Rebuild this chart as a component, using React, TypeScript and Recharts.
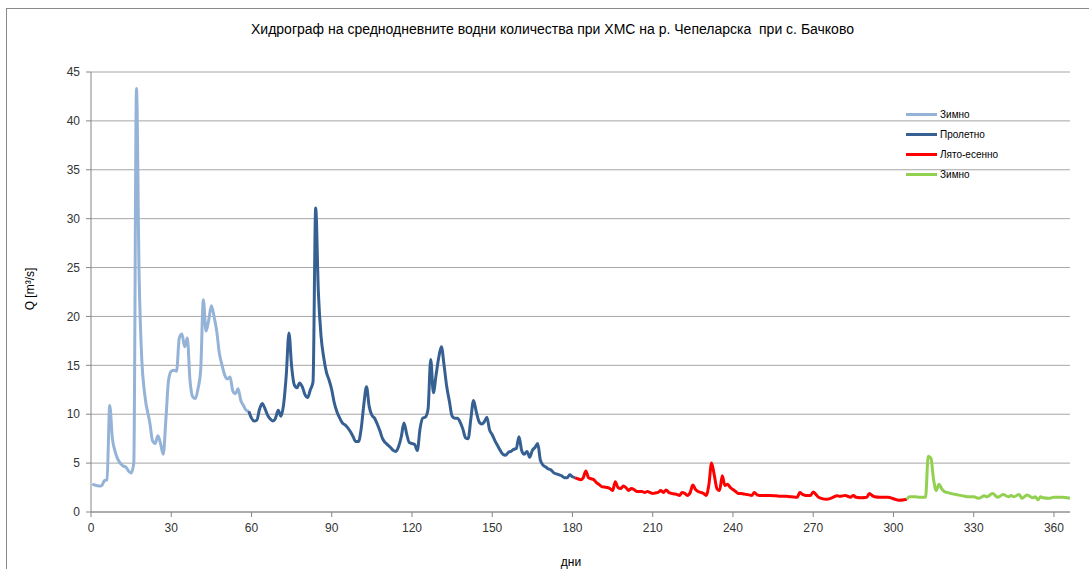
import React from 'react';
import { LineChart, Line, XAxis, YAxis, CartesianGrid, Legend } from 'recharts';

const title = 'Хидрограф на среднодневните водни количества при ХМС на р. Чепеларска  при с. Бачково';
const yLabel = 'Q [m³/s]';
const xLabel = 'дни';
const xTicks = [0, 30, 60, 90, 120, 150, 180, 210, 240, 270, 300, 330, 360];
const yTicks = [0, 5, 10, 15, 20, 25, 30, 35, 40, 45];

const winter1Days = [0.5, 3, 4, 5, 6, 7, 8, 9, 10, 12, 13, 14, 15, 16, 17, 18, 19, 20, 22, 23, 24, 25, 26, 27, 28, 29, 30, 31, 32, 33, 34, 35, 36, 37, 38, 39, 40, 41, 42, 43, 44, 45, 46, 47, 48, 49, 50, 51, 52, 53, 54, 55, 56, 57, 58, 59];
const winter1Q = [2.85, 2.65, 2.7, 3.2, 3.3, 10.9, 7.5, 6.2, 5.4, 4.7, 4.6, 4.2, 4.0, 5.0, 43.3, 24, 15.5, 12.2, 9.1, 7.3, 7.0, 7.8, 7.0, 5.9, 9.5, 13.5, 14.4, 14.5, 14.4, 17.8, 18.2, 16.9, 17.8, 13.5, 11.8, 11.6, 12.6, 14.5, 21.7, 18.5, 19.6, 21.1, 20.0, 18.5, 16.2, 15.0, 14.0, 13.6, 13.8, 12.4, 12.1, 12.6, 11.4, 10.9, 10.4, 10.3];

const springDays = [59, 60, 61, 62, 63, 64, 65, 66, 67, 68, 69, 70, 71, 72, 73, 74, 75, 76, 77, 78, 79, 80, 81, 82, 83, 84, 85, 86, 87, 88, 89, 90, 91, 92, 93, 94, 95, 96, 97, 98, 99, 100, 101, 102, 103, 104, 105, 106, 107, 108, 109, 110, 111, 112, 113, 114, 115, 116, 117, 118, 119, 120, 121, 122, 123, 124, 125, 126, 127, 128, 129, 130, 131, 132, 133, 134, 135, 136, 137, 138, 139, 140, 141, 142, 143, 144, 145, 146, 147, 148, 149, 150, 151, 152, 153, 154, 155, 156, 157, 158, 159, 160, 161, 162, 163, 164, 165, 166, 167, 168, 169, 170, 171, 172, 173, 174, 175, 176, 177, 178, 179, 180, 181];
const springQ = [10.3, 9.6, 9.3, 9.4, 10.5, 11.1, 10.6, 9.9, 9.5, 9.3, 9.6, 10.4, 9.8, 11.0, 14.0, 18.3, 14.9, 13.0, 12.7, 13.2, 12.8, 12.0, 11.7, 12.5, 13.3, 31.1, 22.5, 18.0, 15.8, 14.3, 13.5, 12.5, 11.1, 10.2, 9.6, 9.1, 8.9, 8.6, 8.2, 7.7, 7.2, 7.2, 8.5, 11.0, 12.8, 10.8, 9.9, 9.6, 9.0, 8.3, 7.5, 7.1, 6.85, 6.6, 6.3, 6.2, 6.7, 7.7, 9.1, 8.0, 7.1, 7.0, 6.9, 6.3, 8.5, 9.6, 9.7, 10.5, 15.6, 12.2, 14.0, 15.8, 16.9, 15.0, 12.8, 11.3, 9.8, 9.6, 9.6, 9.2, 8.5, 7.6, 7.5, 9.5, 11.4, 10.3, 9.3, 9.0, 9.2, 9.7, 8.4, 7.9, 7.3, 6.8, 6.3, 5.9, 5.8, 6.1, 6.2, 6.4, 6.5, 7.7, 6.3, 5.9, 6.2, 5.6, 6.3, 6.6, 7.0, 5.3, 4.8, 4.6, 4.4, 4.3, 4.0, 3.9, 3.8, 3.7, 3.5, 3.5, 3.8, 3.6, 3.5];

const summerDays = [181, 182, 183, 184, 185, 186, 187, 188, 189, 190, 191, 192, 193, 194, 195, 196, 197, 198, 199, 200, 201, 202, 203, 204, 205, 206, 207, 208, 209, 210, 211, 212, 213, 214, 215, 216, 217, 218, 219, 220, 221, 222, 223, 224, 225, 226, 227, 228, 229, 230, 231, 232, 233, 234, 235, 236, 237, 238, 239, 240, 241, 242, 243, 244, 245, 246, 247, 248, 249, 250, 252, 254, 256, 258, 260, 262, 264, 265, 266, 267, 268, 269, 270, 271, 272, 273, 275, 277, 279, 280, 282, 284, 285, 286, 288, 290, 291, 292, 293, 295, 297, 298, 300, 302, 304, 305];
const summerQ = [3.5, 3.4, 3.3, 3.5, 4.2, 3.5, 3.4, 3.3, 3.0, 2.8, 2.6, 2.55, 2.5, 2.4, 2.2, 3.1, 2.5, 2.4, 2.65, 2.5, 2.2, 2.4, 2.3, 2.1, 2.1, 2.1, 2.0, 2.1, 2.0, 1.9, 1.95, 2.0, 2.2, 2.0, 2.25, 2.0, 1.9, 1.85, 1.8, 1.7, 2.0, 1.9, 1.7, 2.0, 2.75, 2.3, 2.1, 2.0, 1.9, 1.7, 2.8, 5.0, 3.8, 2.4, 2.2, 3.7, 2.7, 2.85, 2.5, 2.3, 2.1, 1.9, 1.9, 1.85, 1.8, 1.75, 1.7, 2.0, 1.75, 1.7, 1.7, 1.7, 1.65, 1.6, 1.6, 1.55, 1.5, 2.0, 1.8, 1.7, 1.7, 1.7, 2.05, 1.8, 1.5, 1.4, 1.3, 1.45, 1.65, 1.6, 1.7, 1.5, 1.7, 1.5, 1.45, 1.5, 1.9, 1.7, 1.55, 1.5, 1.5, 1.5, 1.35, 1.2, 1.25, 1.3];

const winter2Days = [305, 306, 308, 310, 312, 313, 314, 315, 316, 317, 318, 319, 320, 322, 324, 326, 328, 330, 332, 334, 335, 337, 339, 341, 343, 344, 345, 347, 348, 350, 352, 353, 354, 355, 356, 358, 360, 363, 366];
const winter2Q = [1.3, 1.55, 1.55, 1.5, 1.5, 5.7, 5.5, 3.3, 2.2, 2.85, 2.4, 2.1, 2.0, 1.85, 1.75, 1.65, 1.55, 1.55, 1.4, 1.65, 1.55, 1.9, 1.5, 1.8, 1.55, 1.7, 1.55, 1.8, 1.4, 1.75, 1.45, 1.55, 1.25, 1.55, 1.45, 1.4, 1.5, 1.5, 1.4];

const seriesNames = ['Зимно', 'Пролетно', 'Лято-есенно', 'Зимно'];
const seriesColors = ['#95B3D7', '#376092', '#FF0000', '#92D050'];

const toRows = (days: number[], q: number[]) => days.map((d, i) => ({ day: d, q: q[i] }));
const seriesData = [
  toRows(winter1Days, winter1Q),
  toRows(springDays, springQ),
  toRows(summerDays, summerQ),
  toRows(winter2Days, winter2Q),
];

const font = '"Liberation Sans", Arial, sans-serif';

const LegendContent = () => (
  <div style={{ fontFamily: font, fontSize: 10, color: '#000', textAlign: 'left' }}>
    {seriesNames.map((n, i) => (
      <div key={i} style={{ display: 'flex', alignItems: 'center', height: 20 }}>
        <div style={{ width: 31, height: 3, background: seriesColors[i], marginRight: 3 }} />
        <span>{n}</span>
      </div>
    ))}
  </div>
);

export default function App() {
  return (
    <div style={{ position: 'absolute', left: 0, top: 0, width: 1089, height: 569, overflow: 'hidden', background: '#fff' }}>
      <div style={{ position: 'absolute', left: 6, top: 8, width: 1100, height: 600, border: '1px solid #8a8a8a' }} />
      <div style={{ position: 'absolute', left: 0, top: 21, width: 1105, textAlign: 'center', fontFamily: font, fontSize: 14, color: '#000', whiteSpace: 'pre' }}>{title}</div>
      <div style={{ position: 'absolute', left: 0, top: 555, width: 1142, textAlign: 'center', fontFamily: font, fontSize: 12, color: '#000' }}>{xLabel}</div>
      <div style={{ position: 'absolute', left: 30, top: 290, width: 0, height: 0 }}>
        <div style={{ position: 'absolute', left: -50, top: -8, width: 100, textAlign: 'center', transform: 'rotate(-90deg)', fontFamily: font, fontSize: 12, color: '#000', whiteSpace: 'nowrap' }}>{yLabel}</div>
      </div>
      <div style={{ position: 'absolute', left: 0, top: 0 }}>
        <LineChart width={1089} height={569} margin={{ top: 72, right: 19, left: 51, bottom: 27 }}>
          <CartesianGrid vertical={false} stroke="#a6a6a6" strokeWidth={1} />
          <XAxis
            type="number"
            dataKey="day"
            domain={[0, 366]}
            ticks={xTicks}
            interval={0}
            height={30}
            tickSize={5}
            tickMargin={6}
            stroke="#868686"
            tick={{ fill: '#333', fontSize: 12, fontFamily: font }}
            allowDuplicatedCategory={false}
          />
          <YAxis
            type="number"
            dataKey="q"
            domain={[0, 45]}
            ticks={yTicks}
            interval={0}
            width={40}
            tickSize={5}
            tickMargin={6}
            stroke="#868686"
            tick={{ fill: '#333', fontSize: 12, fontFamily: font }}
          />
          <Legend
            layout="vertical"
            verticalAlign="middle"
            align="center"
            content={<LegendContent />}
            wrapperStyle={{ position: 'absolute', left: 906, top: 104, width: 120 }}
          />
          {seriesData.map((d, i) => (
            <Line
              key={i}
              data={d}
              dataKey="q"
              name={seriesNames[i]}
              type="monotone"
              stroke={seriesColors[i]}
              strokeWidth={3}
              dot={false}
              activeDot={false}
              isAnimationActive={false}
            />
          ))}
        </LineChart>
      </div>
    </div>
  );
}
